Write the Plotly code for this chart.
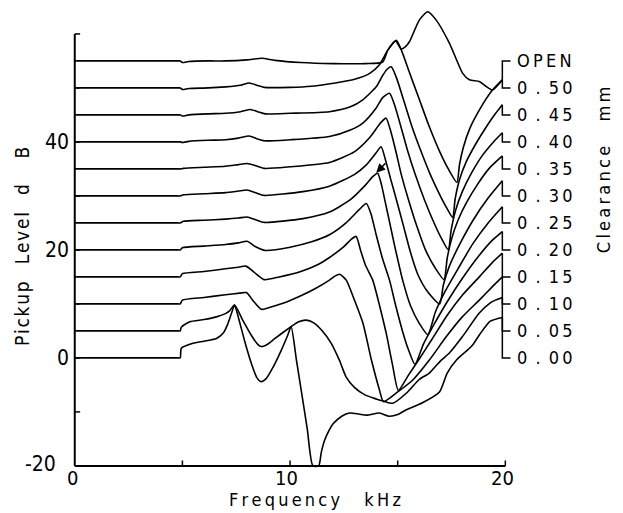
import plotly.graph_objects as go

# ---------------- data ----------------
freq_tick_values = [0, 5, 10, 15, 20]
freq_tick_labels = ["0", "", "10", "", "20"]
level_tick_values = [-20, -10, 0, 10, 20, 30, 40, 50, 60]
level_tick_labels = ["-20", "", "0", "", "20", "", "40", "", ""]
clearance_labels = ["0.00", "0.05", "0.10", "0.15", "0.20", "0.25",
                    "0.30", "0.35", "0.40", "0.45", "0.50", "OPEN"]
curve_offsets = [0, 5, 10, 15, 20, 25, 30, 35, 40, 45, 50, 55]

c000_x = [0, 4.8, 4.9, 4.95, 5.49, 6.0, 6.58, 6.9, 7.1, 7.3, 7.42, 7.6, 7.9, 8.2, 8.45, 8.66, 8.9, 9.2, 9.6, 9.9,
          10.05, 10.3, 10.55, 10.8, 11.06, 11.33, 11.45, 11.6, 11.8, 12.0, 12.4, 12.76, 13.2, 13.55, 14.15, 14.6,
          15.0, 15.4, 16.15, 16.94, 17.3, 17.75, 18.2, 18.5, 18.8, 19.3, 19.86]
c000_y = [0, 0, 0, 1.8, 2.7, 3.1, 3.6, 4.6, 6.2, 8.5, 9.8, 7.5, 3.0, -1.0, -3.6, -4.4, -3.8, -1.8, 1.5, 4.3,
          5.8, -0.5, -6.8, -13.2, -20, -20, -17.5, -15.3, -13.5, -12.2, -10.8, -10.2, -10.4, -10.6, -10.2, -10.8,
          -10.5, -9.6, -8.3, -6.3, -2.8, -0.3, 1.3, 2.5, 4.3, 6.8, 7.5]

c005_x = [0, 4.8, 4.9, 4.95, 5.34, 6.0, 6.58, 7.0, 7.19, 7.42, 7.8, 8.2, 8.5, 8.66, 8.9, 9.3, 9.7, 10.05, 10.4, 10.75,
          11.1, 11.5, 11.9, 12.3, 12.6, 13.0, 13.5, 14.0, 14.34, 14.77, 15.41, 16.0, 16.47, 17.0, 17.4, 18.0, 18.79,
          19.3, 19.54, 19.86]
c005_y = [5, 5, 5, 5.7, 6.7, 7.1, 7.6, 8.2, 8.7, 9.8, 7.0, 4.2, 2.5, 2.1, 2.4, 3.6, 4.8, 5.8, 6.7, 7.0,
          6.5, 5.0, 2.8, -0.5, -3.5, -5.5, -6.9, -7.6, -8.0, -8.4, -6.5, -4.0, -2.8, -0.5, 0.9, 3.9, 8.3,
          10.2, 10.7, 11.2]

c010_x = [0, 4.8, 4.9, 5.0, 6.0, 7.0, 7.66, 7.97, 8.3, 8.66, 9.0, 9.67, 10.5, 11.2, 11.83, 12.1, 12.3, 12.61, 12.99,
          13.38, 13.78, 14.15, 14.34, 15.0, 15.7, 16.47, 17.25, 18.0, 18.79, 19.4, 19.86]
c010_y = [10, 10, 10, 10.7, 11.2, 11.7, 12.0, 12.1, 10.5, 9.0, 9.3, 10.1, 11.5, 12.9, 14.4, 15.2, 15.5, 14.4, 10.7,
          6.5, -0.4, -5.9, -8.1, -6.3, -4.1, -0.4, 3.9, 7.6, 10.7, 13.2, 15.0]

c015_x = [0, 4.8, 4.9, 5.0, 6.0, 7.0, 7.6, 7.95, 8.35, 8.8, 9.5, 10.5, 11.3, 11.83, 12.5, 12.85, 13.07, 13.27, 13.50,
          13.84, 14.15, 14.48, 14.76, 15.03, 15.5, 16.0, 16.6, 17.3, 18.0, 18.79, 19.4, 19.86]
c015_y = [15, 15, 15, 15.6, 16.0, 16.5, 16.8, 17.0, 15.8, 14.5, 15.0, 16.0, 17.3, 18.6, 20.6, 22.0, 22.5, 20.0, 17.2,
          14.4, 9.8, 4.3, -1.3, -6.0, -3.2, -0.2, 3.5, 7.9, 11.6, 15.0, 17.7, 19.4]

c020_x = [0, 4.8, 4.9, 5.0, 6.0, 7.0, 7.6, 8.0, 8.4, 8.85, 10.0, 11.0, 11.83, 12.6, 13.2, 13.54, 13.75, 14.0, 14.3,
          14.62, 14.9, 15.22, 15.5, 15.8, 16.2, 16.7, 17.3, 18.0, 18.79, 19.4, 19.86]
c020_y = [20, 20, 20, 20.4, 20.7, 21.0, 21.3, 21.6, 20.6, 19.9, 20.5, 21.5, 22.8, 25.0, 27.4, 28.6, 26.8, 22.8, 18.3,
          14.4, 9.8, 5.0, 1.5, -1.2, 2.6, 6.3, 10.4, 14.7, 19.0, 21.8, 23.4]

c025_x = [0, 4.8, 4.9, 5.05, 6.0, 7.0, 7.6, 8.0, 8.4, 8.8, 10.6, 11.83, 12.8, 13.5, 13.85, 14.07, 14.25, 14.43, 14.62,
          14.85, 15.23, 15.6, 16.0, 16.4, 16.75, 17.2, 17.8, 18.5, 19.2, 19.86]
c025_y = [25, 25, 25, 25.3, 25.5, 25.7, 25.9, 26.1, 25.6, 25.1, 25.8, 27.0, 29.3, 32.0, 33.6, 34.2, 32.0, 28.7, 25.2,
          20.9, 14.4, 9.6, 6.4, 4.3, 8.5, 12.3, 16.5, 21.2, 25.0, 28.0]

c030_x = [0, 4.8, 4.9, 5.05, 6.0, 7.0, 7.6, 8.0, 8.4, 8.8, 10.6, 11.83, 13.0, 13.53, 14.0, 14.23, 14.43, 14.66, 14.94,
          15.27, 15.59, 15.93, 16.4, 16.95, 17.12, 17.4, 17.9, 18.5, 19.2, 19.86]
c030_y = [30, 30, 30, 30.2, 30.4, 30.6, 30.9, 31.1, 30.6, 30.1, 30.8, 31.8, 34.0, 35.7, 38.0, 39.1, 36.7, 33.3, 29.3,
          24.4, 19.6, 15.5, 12.2, 10.0, 13.5, 17.0, 21.2, 25.5, 29.6, 32.8]

c035_x = [0, 4.8, 4.9, 5.05, 6.0, 7.0, 7.6, 8.0, 8.4, 8.8, 10.0, 11.83, 13.0, 13.7, 14.2, 14.46, 14.66, 14.90, 15.17,
          15.50, 15.87, 16.29, 16.75, 17.15, 17.3, 17.5, 17.8, 18.2, 18.7, 19.25, 19.86]
c035_y = [35, 35, 35, 35.1, 35.3, 35.5, 35.8, 36.0, 35.6, 35.1, 35.4, 36.2, 38.2, 40.8, 43.5, 44.4, 42.2, 38.5, 33.9,
          29.3, 24.6, 20.0, 16.6, 14.5, 18.5, 22.0, 25.5, 28.8, 32.1, 35.1, 37.4]

c040_x = [0, 4.8, 4.9, 5.0, 5.3, 6.2, 7.0, 7.6, 8.1, 8.45, 8.8, 10.0, 11.83, 12.8, 13.38, 14.0, 14.3, 14.62, 14.85,
          15.13, 15.45, 15.82, 16.24, 16.71, 17.05, 17.35, 17.48, 17.68, 18.0, 18.45, 18.95, 19.45, 19.86]
c040_y = [40, 40, 40, 39.9, 40.1, 40.3, 40.4, 40.7, 41.1, 40.6, 40.2, 40.4, 41.0, 42.2, 43.5, 46.3, 48.2, 49.0, 46.9,
          43.1, 38.5, 33.9, 29.3, 24.8, 22.0, 20.0, 23.6, 27.2, 30.8, 34.4, 37.6, 40.0, 41.7]

c045_x = [0, 4.8, 4.9, 5.0, 5.3, 6.2, 7.0, 7.7, 8.15, 8.5, 8.85, 10.0, 11.83, 12.8, 13.38, 14.0, 14.3, 14.52, 14.70,
          14.94, 15.27, 15.64, 16.06, 16.52, 17.03, 17.3, 17.55, 17.67, 17.87, 18.18, 18.65, 19.15, 19.55, 19.86]
c045_y = [45, 45, 45, 44.8, 45.0, 45.2, 45.3, 45.6, 46.0, 45.6, 45.2, 45.3, 45.6, 46.5, 47.8, 50.2, 52.3, 53.5, 53.9,
          51.9, 47.8, 43.1, 38.5, 33.9, 29.6, 27.6, 26.0, 29.5, 33.0, 36.3, 39.8, 43.0, 45.3, 46.9]

c050_x = [0, 4.8, 4.9, 5.0, 5.3, 6.2, 7.0, 7.7, 8.1, 8.45, 8.8, 10.0, 11.0, 12.1, 13.0, 13.7, 14.15, 14.54, 14.93,
          15.17, 15.55, 16.01, 16.47, 16.94, 17.35, 17.75, 17.87, 18.05, 18.35, 18.85, 19.4, 19.86]
c050_y = [50, 50, 50, 49.7, 49.9, 50.0, 50.2, 50.5, 50.9, 50.5, 50.1, 50.1, 50.3, 50.9, 51.6, 52.7, 54.3, 57.0, 58.8,
          57.0, 52.8, 47.8, 42.8, 38.3, 35.0, 32.5, 35.8, 39.0, 42.5, 46.3, 49.6, 51.5]

copen_x = [0, 4.8, 4.9, 5.0, 5.3, 6.2, 7.0, 8.0, 8.7, 9.3, 10.5, 12.0, 13.5, 14.3, 14.54, 14.9, 15.16, 15.35, 15.55,
           16.01, 16.39, 16.78, 17.4, 18.02, 18.33, 18.79, 19.1, 19.4, 19.86]
copen_y = [55, 55, 55, 54.7, 54.9, 55.0, 55.0, 55.2, 55.5, 55.1, 54.7, 54.5, 54.5, 54.8, 57.0, 58.7, 57.2, 57.6, 58.6,
           62.6, 64.1, 62.6, 58.3, 52.7, 51.5, 51.2, 50.3, 49.6, 51.5]

curves = [(c000_x, c000_y), (c005_x, c005_y), (c010_x, c010_y), (c015_x, c015_y),
          (c020_x, c020_y), (c025_x, c025_y), (c030_x, c030_y), (c035_x, c035_y),
          (c040_x, c040_y), (c045_x, c045_y), (c050_x, c050_y), (copen_x, copen_y)]

# arrow annotation (head, tail) in data units
arrow_head = (14.0, 34.3)
arrow_tail = (14.5, 36.3)

# ---------------- figure ----------------
X_RANGE = [-0.5, 25.0]
Y_RANGE = [-21.5, 64.8]
FONT = "DejaVu Sans Condensed, DejaVu Sans, sans-serif"
THIN = "\u2009"
EN = "\u2002"


def px(x):
    return (x - X_RANGE[0]) / (X_RANGE[1] - X_RANGE[0])


def py(y):
    return (y - Y_RANGE[0]) / (Y_RANGE[1] - Y_RANGE[0])


def spaced(word, sep=THIN):
    return sep.join(list(word))


def spaced_label(lab):
    if "." in lab:
        a, b = lab.split(".")
        return a + EN + "." + EN + THIN.join(list(b))
    return THIN.join(list(lab))


def text_ann(x, y, text, size, angle=0, xanchor="center"):
    return dict(x=px(x), y=py(y), xref="paper", yref="paper", text=text, showarrow=False,
                textangle=angle, xanchor=xanchor, yanchor="middle",
                font=dict(family=FONT, size=size, color="black"))


fig = go.Figure()

for xs, ys in curves:
    fig.add_trace(go.Scatter(x=xs, y=ys, mode="lines",
                             line=dict(color="black", width=1.6, shape="spline", smoothing=0.6),
                             hoverinfo="skip", showlegend=False))

# brackets connecting curve ends to clearance labels
bx, by = [], []
tick_len_x = 0.38
for (xs, ys), off in zip(curves, curve_offsets):
    bx += [xs[-1], xs[-1], xs[-1] + tick_len_x, None]
    by += [ys[-1], off, off, None]
fig.add_trace(go.Scatter(x=bx, y=by, mode="lines", line=dict(color="black", width=1.5),
                         hoverinfo="skip", showlegend=False))

shapes = []
shapes.append(dict(type="line", x0=0, x1=0, y0=level_tick_values[0], y1=level_tick_values[-1],
                   line=dict(color="black", width=2)))
shapes.append(dict(type="line", x0=freq_tick_values[0], x1=freq_tick_values[-1], y0=-20, y1=-20,
                   line=dict(color="black", width=2)))
for v in level_tick_values[1:]:
    shapes.append(dict(type="line", x0=0, x1=0.25, y0=v, y1=v, line=dict(color="black", width=1.5)))
for v in freq_tick_values[1:]:
    shapes.append(dict(type="line", x0=v, x1=v, y0=-20, y1=-19.0, line=dict(color="black", width=1.5)))

annotations = []
for v, t in zip(level_tick_values, level_tick_labels):
    if t:
        if v == -20:
            annotations.append(text_ann(-0.78, -19.6, t, 21, xanchor="right"))
        else:
            annotations.append(text_ann(-0.18, v, t, 21, xanchor="right"))
for v, t in zip(freq_tick_values, freq_tick_labels):
    if t:
        annotations.append(text_ann(v - (0.1 if v == 0 else 0.15), -22.2, t, 20))

for lab, off in zip(clearance_labels, curve_offsets):
    annotations.append(text_ann(20.45, off, spaced_label(lab), 18, xanchor="left"))

annotations.append(text_ann(11.14, -26.2, spaced("Frequency") + EN + EN + EN + spaced("kHz"), 18))
annotations.append(text_ann(-2.46, 20.7,
                            spaced("Pickup", "\u200a") + EN + EN + spaced("Level", "\u200a") + EN + EN
                            + "d" + EN + EN + EN + "B",
                            19, angle=-90))
annotations.append(text_ann(24.59, 34.8, spaced("Clearance") + EN + EN + EN + spaced("mm"), 18,
                            angle=-90))
annotations.append(dict(x=arrow_head[0], y=arrow_head[1], ax=arrow_tail[0], ay=arrow_tail[1],
                        xref="x", yref="y", axref="x", ayref="y", text="", showarrow=True,
                        arrowhead=2, arrowsize=1.2, arrowwidth=1.5, arrowcolor="black"))

fig.update_layout(
    width=615, height=505,
    margin=dict(l=56, r=10, t=0, b=39, pad=0),
    paper_bgcolor="white", plot_bgcolor="white",
    xaxis=dict(range=X_RANGE, showgrid=False, zeroline=False, showticklabels=False,
               showline=False, ticks=""),
    yaxis=dict(range=Y_RANGE, showgrid=False, zeroline=False, showticklabels=False,
               showline=False, ticks=""),
    shapes=shapes, annotations=annotations, showlegend=False,
)

fig.write_html("out.html")
